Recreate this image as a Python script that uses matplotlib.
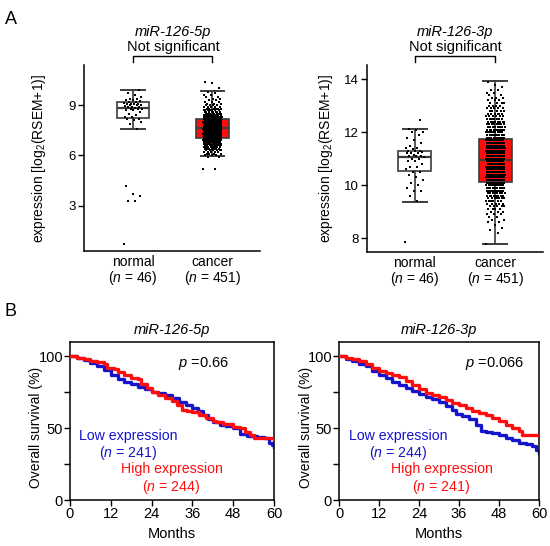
import numpy as np
import matplotlib
matplotlib.use('Agg')
import matplotlib.pyplot as plt
import matplotlib.transforms as mtransforms

plt.rcParams['font.family'] = ['Liberation Sans', 'DejaVu Sans']
plt.rcParams['mathtext.fontset'] = 'custom'
plt.rcParams['mathtext.rm'] = 'Liberation Sans'
plt.rcParams['mathtext.it'] = 'Liberation Sans:italic'

W, H = 550, 546

# ---- panel A data (expression, log2(RSEM+1)) ----
groups = ['normal', 'cancer']
group_n = [46, 451]

# miR-126-5p normal: individual points
normal_5p = [0.7, 3.3, 3.3, 3.6, 3.7, 4.2,
             7.6, 7.9, 8.0, 8.1, 8.2, 8.2, 8.3, 8.3, 8.4, 8.5, 8.6, 8.7, 8.7, 8.8,
             8.8, 8.8, 8.85, 8.9, 8.9, 8.9, 8.95, 9.0, 9.0, 9.0, 9.05, 9.1, 9.1, 9.1,
             9.15, 9.2, 9.2, 9.25, 9.3, 9.3, 9.35, 9.4, 9.5, 9.6, 9.7, 9.9]
# miR-126-5p cancer: estimated point counts per expression level
cancer_5p_levels = [5.2, 5.9, 6.0, 6.1, 6.2, 6.3, 6.4, 6.5, 6.6, 6.7, 6.8, 6.9, 7.0,
                    7.1, 7.2, 7.3, 7.4, 7.5, 7.6, 7.7, 7.8, 7.9, 8.0, 8.1, 8.2, 8.3,
                    8.4, 8.5, 8.6, 8.7, 8.8, 8.9, 9.0, 9.1, 9.2, 9.3, 9.4, 9.5, 9.6,
                    9.7, 9.8, 10.0, 10.3, 10.4]
cancer_5p_counts = [2, 2, 3, 4, 5, 6, 7, 8, 10, 12, 14, 17, 20,
                    22, 23, 24, 24, 24, 24, 23, 22, 21, 19, 17, 15, 13,
                    11, 10, 8, 7, 6, 5, 4, 3, 3, 2, 2, 2, 2,
                    1, 1, 1, 1, 1]

# miR-126-3p normal
normal_3p = [7.85,
             9.4, 9.6, 9.8, 9.8, 9.9, 10.0, 10.1, 10.2, 10.3, 10.4, 10.5, 10.5, 10.6,
             10.7, 10.7, 10.8, 10.9, 10.9, 11.0, 11.0, 11.05, 11.1, 11.1, 11.1, 11.15,
             11.2, 11.2, 11.2, 11.25, 11.3, 11.3, 11.3, 11.35, 11.4, 11.4, 11.5, 11.6,
             11.7, 11.8, 11.9, 12.0, 12.0, 12.1, 12.13, 12.45]
# miR-126-3p cancer
cancer_3p_levels = [7.8, 8.2, 8.3, 8.4, 8.5, 8.6, 8.7, 8.8, 8.9, 9.0, 9.1, 9.2, 9.3,
                    9.4, 9.5, 9.6, 9.7, 9.8, 9.9, 10.0, 10.1, 10.2, 10.3, 10.4, 10.5,
                    10.6, 10.7, 10.8, 10.9, 11.0, 11.1, 11.2, 11.3, 11.4, 11.5, 11.6,
                    11.7, 11.8, 11.9, 12.0, 12.1, 12.2, 12.3, 12.4, 12.5, 12.6, 12.7,
                    12.8, 12.9, 13.0, 13.1, 13.2, 13.3, 13.4, 13.5, 13.6, 13.7, 13.8, 13.9]
cancer_3p_counts = [1, 1, 1, 1, 1, 2, 2, 2, 3, 3, 4, 5, 5,
                    6, 7, 8, 9, 10, 11, 12, 14, 14, 14, 14, 14,
                    14, 14, 14, 14, 14, 14, 14, 14, 14, 14, 13,
                    13, 12, 11, 11, 10, 9, 8, 8, 7, 6, 6,
                    5, 5, 4, 4, 3, 3, 2, 2, 2, 1, 1, 1]

# box statistics: (low whisker, q1, median, q3, high whisker)
box_5p = [(7.6, 8.25, 8.85, 9.2, 9.9), (5.95, 7.05, 7.65, 8.15, 9.83)]
box_3p = [(9.37, 10.54, 11.08, 11.31, 12.13), (7.8, 10.13, 10.96, 11.75, 13.95)]

# ---- panel B data (Kaplan-Meier, % overall survival) ----
km5_high_t = [0, 2, 4, 6, 8, 10, 11, 13, 14, 16, 18, 20, 21, 22.5, 24, 26, 28, 30, 31.5,
              33, 34.5, 36, 38, 40, 42, 43, 45, 48, 50, 51.5, 53, 54, 57, 60]
km5_high_s = [100, 99, 98, 97, 96, 95, 92, 91, 89, 87, 85, 84, 81, 78, 75, 73, 71, 69, 66,
              63, 62, 61, 59.5, 57, 55, 54, 53, 51, 50, 47, 45, 43.5, 43, 42.5]
km5_low_t = [0, 2, 4, 6, 8, 10, 12, 14, 16, 18, 20, 22, 24, 26, 28, 30, 32, 34, 36, 37.5,
             39, 40.5, 42, 44, 46, 48, 50, 52, 55, 57, 58.5, 59.5, 60]
km5_low_s = [100, 99, 97.5, 95.5, 93, 90.5, 87, 84, 82, 80.5, 79, 77, 75.5, 74.5, 73, 71,
             68.5, 66, 64, 62, 59, 56.5, 54, 52.5, 51.5, 50, 46, 44.5, 44, 43, 40, 38, 37]
km3_high_t = [0, 2, 4, 6, 8, 10, 12, 14, 16, 18, 20, 22, 24, 26, 28, 30, 32, 34, 36, 38,
              40, 42, 44, 46, 48, 50, 52, 54, 55, 60]
km3_high_s = [100, 99, 98, 96.5, 95, 92, 90, 88.5, 87, 85.5, 83, 80, 77, 74.5, 73, 71.5,
              69.5, 67.5, 66, 64, 62, 60.5, 59, 57, 55, 52.5, 50, 48, 45, 45]
km3_low_t = [0, 2, 4, 6, 8, 10, 12, 14, 16, 18, 20, 22, 24, 26, 28, 30, 32, 34, 35, 37,
             39, 41, 42.5, 44, 46, 48, 50, 52, 54, 56, 58, 59, 60]
km3_low_s = [100, 98.5, 97, 95, 93, 90, 87, 85, 82, 80, 78, 76, 73.5, 72, 70, 68, 65.5,
             63, 60, 58.5, 56.5, 52, 48, 47, 46.5, 45, 43, 41.5, 40, 39, 37.5, 35, 33]

RED = '#ff0d0d'
BLUE = '#1414cc'
BOXC = '#3c3c3c'


def rect(x0, y0, x1, y1):
    # pixel box (top-left origin) -> figure fraction
    return [x0 / W, 1 - y1 / H, (x1 - x0) / W, (y1 - y0) / H]


def ftext(x, y, s, **kw):
    fig.text(x / W, 1 - y / H, s, **kw)


fig = plt.figure(figsize=(W / 100, H / 100), dpi=100)


def box_panel(ax, normal, levels, counts, stats, ylim, yticks, xlim, ylab_x):
    cancer = np.repeat(levels, counts)
    bx = []
    for st in stats:
        bx.append({'whislo': st[0], 'q1': st[1], 'med': st[2], 'q3': st[3],
                   'whishi': st[4], 'fliers': []})
    b = ax.bxp(bx, positions=[1, 2], widths=0.41, patch_artist=True, showfliers=False,
               boxprops=dict(edgecolor=BOXC, linewidth=1.2),
               whiskerprops=dict(color=BOXC, linewidth=1.2),
               capprops=dict(color=BOXC, linewidth=1.4),
               medianprops=dict(color=BOXC, linewidth=1.6),
               capwidths=0.3, zorder=2)
    b['boxes'][0].set_facecolor('white')
    b['boxes'][1].set_facecolor(RED)
    for pos, vals in zip([1, 2], [np.asarray(normal), cancer]):
        k = np.arange(len(vals))
        off = ((k * 0.6180339887) % 1.0 - 0.5) * 0.23
        ax.scatter(pos + off, vals, s=1.6, c='black', marker='s', linewidths=0, zorder=3)
    ax.set_xlim(*xlim)
    ax.set_ylim(*ylim)
    ax.set_yticks(yticks)
    ax.set_xticks([1, 2])
    ax.set_xticklabels([g + '\n($\\it{n}$ = %d)' % n for g, n in zip(groups, group_n)],
                       fontsize=10, linespacing=1.0)
    ax.tick_params(axis='x', length=0, pad=3)
    ax.tick_params(axis='y', labelsize=9.5, length=4, width=1, pad=2)
    for sp in ['top', 'right']:
        ax.spines[sp].set_visible(False)
    for sp in ['left', 'bottom']:
        ax.spines[sp].set_linewidth(1.1)
    ax.set_ylabel('expression [log$_2$(RSEM+1)]', fontsize=10)
    ax.yaxis.set_label_coords(ylab_x, 0.5)
    # significance bracket
    tr = mtransforms.blended_transform_factory(ax.transData, ax.transAxes)
    ax.plot([1, 1, 2, 2], [1.016, 1.048, 1.048, 1.016], color='black', lw=1.0,
            transform=tr, clip_on=False)


axA1 = fig.add_axes(rect(84, 65, 260, 251))
box_panel(axA1, normal_5p, cancer_5p_levels, cancer_5p_counts, box_5p,
          (0.3, 11.4), [3, 6, 9], (0.38, 2.6), -0.205)
axA2 = fig.add_axes(rect(367, 65, 543, 252))
box_panel(axA2, normal_3p, cancer_3p_levels, cancer_3p_counts, box_3p,
          (7.48, 14.54), [8, 10, 12, 14], (0.41, 2.59), -0.182)

ftext(5, 20, 'A', fontsize=13, va='center', ha='left')
ftext(173, 32, 'miR-126-5p', fontsize=10.5, style='italic', ha='center', va='center')
ftext(173, 47, 'Not significant', fontsize=10.5, ha='center', va='center')
ftext(455, 32, 'miR-126-3p', fontsize=10.5, style='italic', ha='center', va='center')
ftext(455, 47, 'Not significant', fontsize=10.5, ha='center', va='center')


def km_panel(ax, ht, hs, lt, ls, title, ylab_x):
    ax.plot(lt, ls, drawstyle='steps-post', color=BLUE, lw=2.4, zorder=2)
    ax.plot(ht, hs, drawstyle='steps-post', color=RED, lw=2.4, zorder=3)
    ax.set_xlim(0, 60)
    ax.set_ylim(0, 110)
    ax.set_xticks([0, 12, 24, 36, 48, 60])
    ax.set_yticks([0, 50, 100])
    ax.set_yticks([25, 75], minor=True)
    ax.tick_params(axis='both', which='both', direction='out', length=4, width=1,
                   labelsize=10.5, pad=1)
    for sp in ax.spines.values():
        sp.set_linewidth(1.1)
    ax.set_xlabel('Months', fontsize=10.5, labelpad=4)
    ax.set_ylabel('Overall survival (%)', fontsize=10)
    ax.yaxis.set_label_coords(ylab_x, 0.46)
    ax.set_title(title, fontsize=10.5, style='italic', pad=6)


axB1 = fig.add_axes(rect(70, 342, 274, 500))
km_panel(axB1, km5_high_t, km5_high_s, km5_low_t, km5_low_s, 'miR-126-5p', -0.132)
axB2 = fig.add_axes(rect(339, 342, 539, 500))
km_panel(axB2, km3_high_t, km3_high_s, km3_low_t, km3_low_s, 'miR-126-3p', -0.13)

ftext(4, 311, 'B', fontsize=13, va='center', ha='left')

fs = 10.2
ftext(178, 363, '$\\it{p}$ =0.66', fontsize=10.5, va='center', ha='left')
ftext(128, 436, 'Low expression', fontsize=fs, color=BLUE, ha='center', va='center')
ftext(128, 453, '($\\it{n}$ = 241)', fontsize=fs, color=BLUE, ha='center', va='center')
ftext(171.5, 469, 'High expression', fontsize=fs, color=RED, ha='center', va='center')
ftext(171.5, 487, '($\\it{n}$ = 244)', fontsize=fs, color=RED, ha='center', va='center')

ftext(465, 363, '$\\it{p}$ =0.066', fontsize=10.5, va='center', ha='left')
ftext(398, 436, 'Low expression', fontsize=fs, color=BLUE, ha='center', va='center')
ftext(398, 453, '($\\it{n}$ = 244)', fontsize=fs, color=BLUE, ha='center', va='center')
ftext(441.5, 469, 'High expression', fontsize=fs, color=RED, ha='center', va='center')
ftext(441.5, 487, '($\\it{n}$ = 241)', fontsize=fs, color=RED, ha='center', va='center')

fig.savefig('out.png', dpi=100)
